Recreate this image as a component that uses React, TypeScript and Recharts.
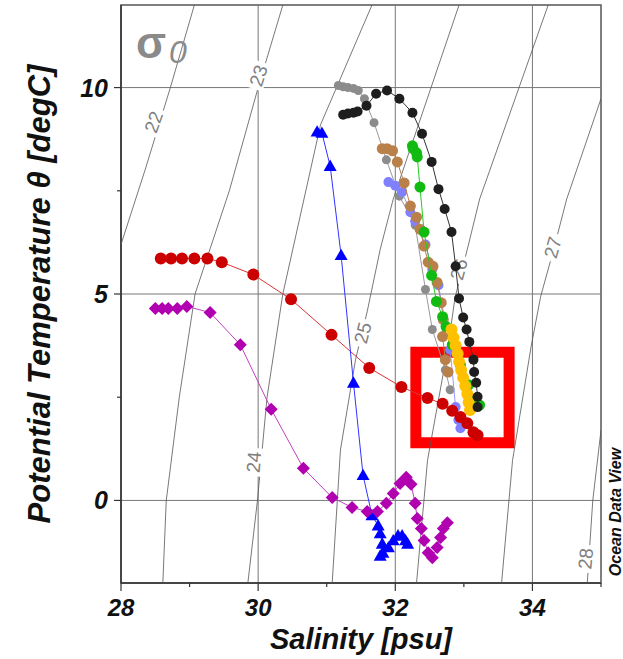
import React from "react";
import { ScatterChart, Scatter, XAxis, YAxis, ReferenceLine, ReferenceArea, Label } from "recharts";

// salinity / potential temperature pairs
const sigma22 = [[29.07, 12], [28.72, 10], [28.35, 8], [28.0, 6.2]];
const sigma23 = [[30.36, 12], [30.0, 10], [29.58, 7.5], [29.08, 5], [28.85, 2.5], [28.66, 0], [28.61, -2]];
const sigma24 = [[31.66, 12], [30.91, 9.1], [30.36, 5], [30.13, 2.5], [29.99, 0], [29.85, -2]];
const sigma25 = [[32.93, 12], [31.97, 7.3], [31.78, 6.08], [31.59, 4.57], [31.42, 3.41], [31.2, 1.22], [31.08, -2]];
const sigma26 = [[34.23, 12], [33.23, 7.3], [33.05, 6.08], [32.87, 4.9], [32.77, 3.72], [32.47, 0.97], [32.31, -2]];
const sigma27 = [[35, 9.73], [34.5, 7.3], [34.31, 6.08], [34.12, 4.94], [33.98, 3.72], [33.71, 0.97], [33.55, -2]];
const sigma28 = [[35, 1.7], [34.88, 0], [34.8, -2]];

const sigmaLabels = [
  { s: 28.47, t: 9.17, text: "22" },
  { s: 30.0, t: 10.29, text: "23" },
  { s: 29.93, t: 0.93, text: "24" },
  { s: 31.52, t: 4.06, text: "25" },
  { s: 32.92, t: 5.6, text: "26" },
  { s: 34.29, t: 6.13, text: "27" },
  { s: 34.77, t: -1.41, text: "28" },
];
const labelAngle: Record<string, number> = { "22": -70, "23": -72, "24": -85, "25": -76, "26": -75, "27": -74, "28": -85 };

const red = [
  [28.58, 5.86], [28.73, 5.86], [28.89, 5.86], [29.07, 5.86], [29.26, 5.86], [29.47, 5.77], [29.93, 5.47],
  [30.48, 4.87], [31.07, 4.01], [31.62, 3.21], [32.09, 2.75], [32.47, 2.48], [32.69, 2.34], [32.83, 2.17],
  [32.95, 2.02], [33.05, 1.87], [33.14, 1.65], [33.2, 1.58],
];
const purple = [
  [28.5, 4.65], [28.6, 4.65], [28.69, 4.65], [28.82, 4.65], [28.96, 4.7], [29.3, 4.55], [29.74, 3.77],
  [30.19, 2.21], [30.66, 0.78], [31.08, 0.07], [31.37, -0.17], [31.59, -0.27], [31.74, -0.27], [31.87, -0.07],
  [31.97, 0.17], [32.07, 0.41], [32.16, 0.56], [32.23, 0.39], [32.29, -0.07], [32.32, -0.44], [32.38, -0.68],
  [32.42, -0.97], [32.48, -1.27], [32.54, -1.39], [32.61, -1.14], [32.66, -0.9], [32.7, -0.68], [32.76, -0.54],
];
const blue = [
  [30.86, 8.93], [30.93, 8.9], [31.05, 8.1], [31.21, 5.94], [31.39, 2.85], [31.53, 0.61], [31.66, -0.36],
  [31.75, -0.61], [31.78, -0.8], [31.81, -1.05], [31.78, -1.34], [31.82, -1.27], [31.9, -1.14], [31.97, -0.97],
  [32.04, -0.85], [32.1, -0.85], [32.15, -0.97], [32.18, -1.05],
];
const black = [
  [31.24, 9.34], [31.31, 9.37], [31.39, 9.39], [31.45, 9.42], [31.58, 9.56], [31.72, 9.85], [31.88, 9.93],
  [32.06, 9.73], [32.25, 9.39], [32.39, 8.88], [32.53, 8.2], [32.63, 7.54], [32.72, 7.06], [32.82, 6.5],
  [32.88, 5.67], [32.93, 4.89], [32.99, 4.43], [33.04, 4.14], [33.08, 3.84], [33.14, 3.41], [33.15, 3.11],
  [33.18, 2.85], [33.2, 2.51], [33.2, 2.26],
];
const gray = [
  [31.17, 10.05], [31.24, 10.02], [31.31, 10.0], [31.39, 9.98], [31.46, 9.93], [31.55, 9.73], [31.69, 9.15],
  [31.87, 8.25], [32.06, 7.37], [32.29, 6.67], [32.44, 5.11], [32.54, 4.14], [32.73, 3.16], [32.8, 2.68],
];
const brown = [
  [31.81, 8.52], [31.88, 8.52], [31.96, 8.47], [32.03, 8.2], [32.13, 7.69], [32.22, 7.13], [32.31, 6.86],
  [32.36, 6.57], [32.42, 6.16], [32.48, 5.77], [32.55, 5.67], [32.61, 5.28], [32.67, 4.79], [32.7, 4.38],
  [32.69, 3.97], [32.73, 3.41], [32.77, 3.11],
];
const lightBlue = [
  [31.9, 7.71], [32.0, 7.62], [32.1, 7.47], [32.22, 6.98], [32.29, 6.76], [32.44, 6.2], [32.54, 5.6],
  [32.63, 5.21], [32.8, 3.65], [32.88, 2.26], [32.92, 1.95], [32.95, 1.75],
];
const green = [
  [32.25, 8.59], [32.26, 8.52], [32.31, 8.42], [32.32, 8.32], [32.36, 7.59], [32.42, 6.5], [32.53, 5.45],
  [32.6, 4.82], [32.69, 4.45], [32.74, 4.21], [32.83, 3.77], [32.95, 3.28], [33.07, 2.8], [33.17, 2.43], [33.23, 2.31],
];
const yellow = [
  [32.82, 4.14], [32.85, 3.94], [32.88, 3.75], [32.91, 3.55], [32.93, 3.36], [32.96, 3.16], [32.99, 2.97],
  [33.02, 2.77], [33.05, 2.58], [33.07, 2.38], [33.09, 2.19],
];

const sTicks = [28, 29, 30, 31, 32, 33, 34, 35];
const tTicks = [0, 2.5, 5, 7.5, 10];

const FONT = '"Liberation Sans", Arial, Helvetica, sans-serif';
const pts = (a: number[][]) => a.map(([s, t]) => ({ s, t }));

const dot = (r: number, fill: string) => (p: any) => <circle cx={p.cx} cy={p.cy} r={r} fill={fill} />;
const diamond = (r: number, fill: string) => (p: any) => (
  <polygon points={`${p.cx},${p.cy - r} ${p.cx + r},${p.cy} ${p.cx},${p.cy + r} ${p.cx - r},${p.cy}`} fill={fill} />
);
const triangle = (r: number, fill: string) => (p: any) => (
  <polygon points={`${p.cx},${p.cy - r} ${p.cx + r},${p.cy + r * 0.75} ${p.cx - r},${p.cy + r * 0.75}`} fill={fill} />
);
const noDot = () => <g />;

const contourLabel = (p: any) => {
  const txt = p.payload.text;
  return (
    <g transform={`translate(${p.cx},${p.cy}) rotate(${labelAngle[txt]})`}>
      <rect x={-14} y={-9} width={28} height={18} fill="#fff" />
      <text x={0} y={7} textAnchor="middle" fontFamily={FONT} fontSize={19} fill="#808080">
        {txt}
      </text>
    </g>
  );
};

const XTick = (p: any) => {
  const v = p.payload.value;
  const major = v % 2 === 0;
  return (
    <g>
      <line x1={p.x} x2={p.x} y1={p.y} y2={p.y + (major ? 8 : 4)} stroke="#333" strokeWidth={1.2} />
      {major && (
        <text x={p.x} y={p.y + 33} textAnchor="middle" fontFamily={FONT} fontSize={24} fontWeight="bold" fontStyle="italic" fill="#111">
          {v}
        </text>
      )}
    </g>
  );
};

const YTick = (p: any) => {
  const v = p.payload.value;
  const major = v % 5 === 0;
  return (
    <g>
      <line x1={p.x} x2={p.x - (major ? 7 : 4)} y1={p.y} y2={p.y} stroke="#333" strokeWidth={1.2} />
      {major && (
        <text x={p.x - 13} y={p.y + 9} textAnchor="end" fontFamily={FONT} fontSize={25} fontWeight="bold" fontStyle="italic" fill="#111">
          {v}
        </text>
      )}
    </g>
  );
};

const contours = [sigma22, sigma23, sigma24, sigma25, sigma26, sigma27, sigma28];

export default function App() {
  return (
    <div style={{ position: "absolute", left: 0, top: 0, width: 623, height: 659, background: "#fff" }}>
      <ScatterChart width={623} height={659} margin={{ top: 5, right: 22, left: 0, bottom: 0 }}>
        <XAxis
          type="number"
          dataKey="s"
          domain={[28, 35]}
          ticks={sTicks}
          interval={0}
          height={76}
          tickSize={0}
          tickMargin={0}
          tickLine={false}
          tick={XTick}
          axisLine={{ stroke: "#333", strokeWidth: 1.5 }}
          allowDataOverflow
        >
          <Label
            content={(props: any) => {
              const vb = props.viewBox;
              return (
                <text x={vb.x + vb.width / 2} y={vb.y + 66} textAnchor="middle" fontFamily={FONT} fontSize={29} fontWeight="bold" fontStyle="italic" fill="#111">
                  Salinity [psu]
                </text>
              );
            }}
          />
        </XAxis>
        <YAxis
          type="number"
          dataKey="t"
          domain={[-2, 12]}
          ticks={tTicks}
          interval={0}
          width={121}
          tickSize={0}
          tickMargin={0}
          tickLine={false}
          tick={YTick}
          axisLine={{ stroke: "#333", strokeWidth: 1.5 }}
          allowDataOverflow
        >
          <Label
            content={(props: any) => {
              const vb = props.viewBox;
              const cy = vb.y + vb.height / 2;
              return (
                <text x={50} y={cy} transform={`rotate(-90 50 ${cy})`} textAnchor="middle" fontFamily={FONT} fontSize={31} fontWeight="bold" fontStyle="italic" fill="#111">
                  Potential Temperature θ [degC]
                </text>
              );
            }}
          />
        </YAxis>

        {[30, 32, 34].map((v) => (
          <ReferenceLine key={"x" + v} x={v} stroke="#777" strokeWidth={1} />
        ))}
        {[0, 5, 10].map((v) => (
          <ReferenceLine key={"y" + v} y={v} stroke="#777" strokeWidth={1} />
        ))}

        {contours.map((c, i) => (
          <Scatter key={"c" + i} data={pts(c)} shape={noDot} line={{ stroke: "#555", strokeWidth: 0.8 }} isAnimationActive={false} />
        ))}
        <Scatter data={sigmaLabels} shape={contourLabel} isAnimationActive={false} />

        <Scatter data={pts(gray)} shape={dot(4.5, "#8c8c8c")} line={{ stroke: "#999", strokeWidth: 1 }} isAnimationActive={false} />
        <Scatter data={pts(lightBlue)} shape={dot(5, "#8080ff")} line={{ stroke: "#9999ff", strokeWidth: 1 }} isAnimationActive={false} />
        <Scatter data={pts(brown)} shape={dot(5.5, "#b9804a")} line={{ stroke: "#b9804a", strokeWidth: 1 }} isAnimationActive={false} />
        <Scatter data={pts(green)} shape={dot(5.5, "#11bb11")} line={{ stroke: "#22cc22", strokeWidth: 1 }} isAnimationActive={false} />
        <Scatter data={pts(yellow)} shape={dot(6, "#ffc000")} line={{ stroke: "#ffc000", strokeWidth: 1 }} isAnimationActive={false} />
        <Scatter data={pts(black)} shape={dot(5, "#1e1e1e")} line={{ stroke: "#333", strokeWidth: 1 }} isAnimationActive={false} />
        <Scatter data={pts(red)} shape={dot(6, "#cc0000")} line={{ stroke: "#dd3333", strokeWidth: 1 }} isAnimationActive={false} />
        <Scatter data={pts(blue)} shape={triangle(6.5, "#0000ff")} line={{ stroke: "#3333ff", strokeWidth: 1 }} isAnimationActive={false} />
        <Scatter data={pts(purple)} shape={diamond(6.5, "#b000b0")} line={{ stroke: "#c040c0", strokeWidth: 1 }} isAnimationActive={false} />

        <ReferenceArea x1={28} x2={35} y1={-2} y2={12} fill="none" stroke="#555" strokeWidth={1.5} />
        <ReferenceArea x1={32.3} x2={33.66} y1={1.4} y2={3.59} fill="none" stroke="#ff0000" strokeWidth={11} />
      </ScatterChart>

      <svg width={623} height={659} style={{ position: "absolute", left: 0, top: 0, pointerEvents: "none" }}>
        <text x={136} y={58} fontFamily={FONT} fontSize={44} fontWeight="bold" fill="#8a8a8a">σ</text>
        <text x={169} y={63} fontFamily={FONT} fontSize={32} fontStyle="italic" fill="#8a8a8a">0</text>
        <text x={621} y={512} transform="rotate(-90 621 512)" textAnchor="middle" fontFamily={FONT} fontSize={16} fontWeight="bold" fontStyle="italic" fill="#111">
          Ocean Data View
        </text>
      </svg>
    </div>
  );
}
